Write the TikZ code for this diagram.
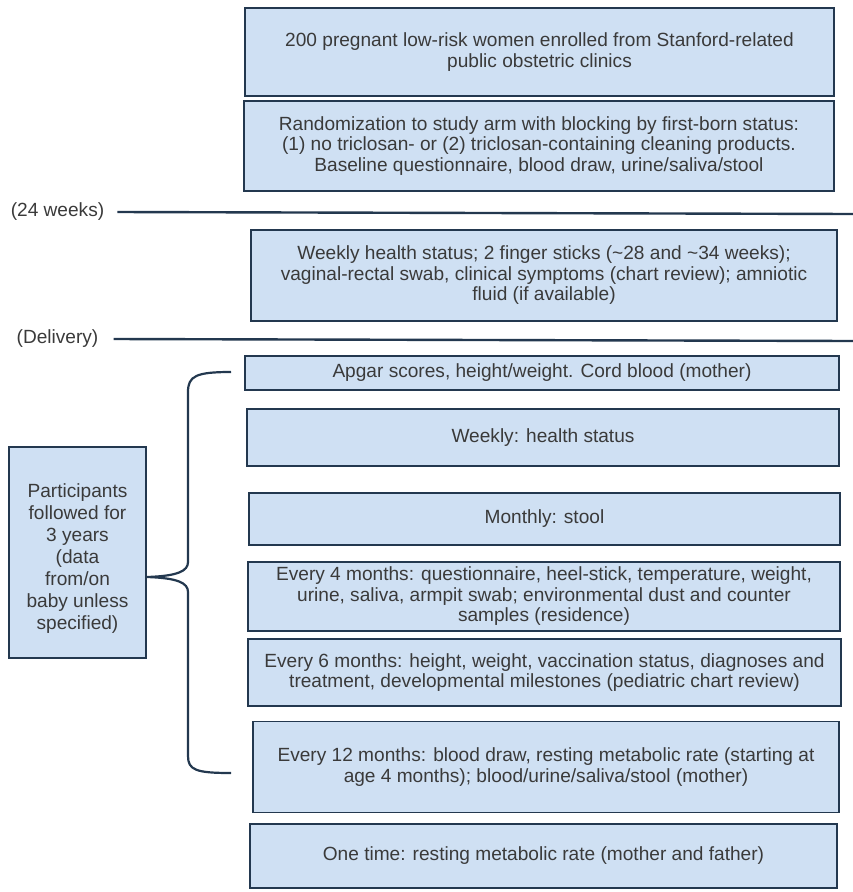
\documentclass[tikz,border=0pt]{standalone}
\usepackage{fontspec}
\setmainfont{Liberation Sans}
\definecolor{boxfill}{HTML}{CFE0F3}
\definecolor{boxline}{HTML}{23384F}
\definecolor{txt}{HTML}{3A3A3A}
\begin{document}
\begin{tikzpicture}[x=1pt,y=-1pt,
  box/.style={draw=boxline, fill=boxfill, line width=1.8pt, inner sep=0pt, align=center,
              text=txt, font=\fontsize{19.1}{20.5}\selectfont},
  lbl/.style={inner sep=0pt, text=txt, font=\fontsize{19.1}{20.5}\selectfont},
  tline/.style={draw=boxline, line width=2.4pt},
  brace/.style={draw=boxline, line width=2.2pt}]
\useasboundingbox (0,0) rectangle (853,892);
\node[box, minimum width=589pt, minimum height=88pt] (b1) at (539.5,52)
  {200 pregnant low-risk women enrolled from Stanford-related\\public obstetric clinics};
\node[box, minimum width=590pt, minimum height=90pt] (b2) at (539,146)
  {Randomization to study arm with blocking by first-born status:\\(1) no triclosan- or (2) triclosan-containing cleaning products.\\Baseline questionnaire, blood draw, urine/saliva/stool};
\node[box, minimum width=586pt, minimum height=91pt] (b3) at (544,275.5)
  {Weekly health status; 2 finger sticks (\textasciitilde28 and \textasciitilde34 weeks);\\vaginal-rectal swab, clinical symptoms (chart review); amniotic\\fluid (if available)};
\node[box, minimum width=594pt, minimum height=34pt] (b4) at (542,373)
  {Apgar scores, height/weight. Cord blood (mother)};
\node[box, minimum width=592pt, minimum height=57pt] (b5) at (543,437.5)
  {Weekly: health status};
\node[box, minimum width=591pt, minimum height=52pt] (b6) at (544.5,519)
  {Monthly: stool};
\node[box, minimum width=592pt, minimum height=69pt] (b7) at (544,596.5)
  {Every 4 months: questionnaire, heel-stick, temperature, weight,\\urine, saliva, armpit swab; environmental dust and counter\\samples (residence)};
\node[box, minimum width=593pt, minimum height=67pt] (b8) at (544.5,672.5)
  {Every 6 months: height, weight, vaccination status, diagnoses and\\treatment, developmental milestones (pediatric chart review)};
\node[box, minimum width=586pt, minimum height=91pt] (b9) at (546,767)
  {Every 12 months: blood draw, resting metabolic rate (starting at\\age 4 months); blood/urine/saliva/stool (mother)};
\node[box, minimum width=587pt, minimum height=64pt] (b10) at (543.5,856)
  {One time: resting metabolic rate (mother and father)};
\node[box, minimum width=137pt, minimum height=211pt] (part) at (77.5,552.5) {};
\node[lbl, align=center, font=\fontsize{19.1}{22}\selectfont] (parttxt) at (77.5,559)
  {Participants\\followed for\\3 years\\(data\\from/on\\baby unless\\specified)};
% timeline labels and lines
\node[lbl] (l24) at (57.5,212) {(24 weeks)};
\node[lbl] (ldel) at (57.5,339) {(Delivery)};
\coordinate (e24) at (853,214);
\coordinate (edel) at (853,341);
\draw[tline] ([xshift=13pt]l24.east) -- (e24);
\draw[tline] ([xshift=15pt]ldel.east) -- (edel);
% brace
\coordinate (btop) at (231,372);
\coordinate (bbot) at (231,773);
\coordinate (tip) at (part.east |- 0,577);
\draw[brace] (btop) .. controls (196,372) and (188,376) .. (188,392)
  -- (188,562) .. controls (188,571) and (178,576) .. (tip)
  .. controls (178,578) and (188,583) .. (188,592)
  -- (188,756) .. controls (188,770) and (196,773) .. (bbot);
\end{tikzpicture}
\end{document}
